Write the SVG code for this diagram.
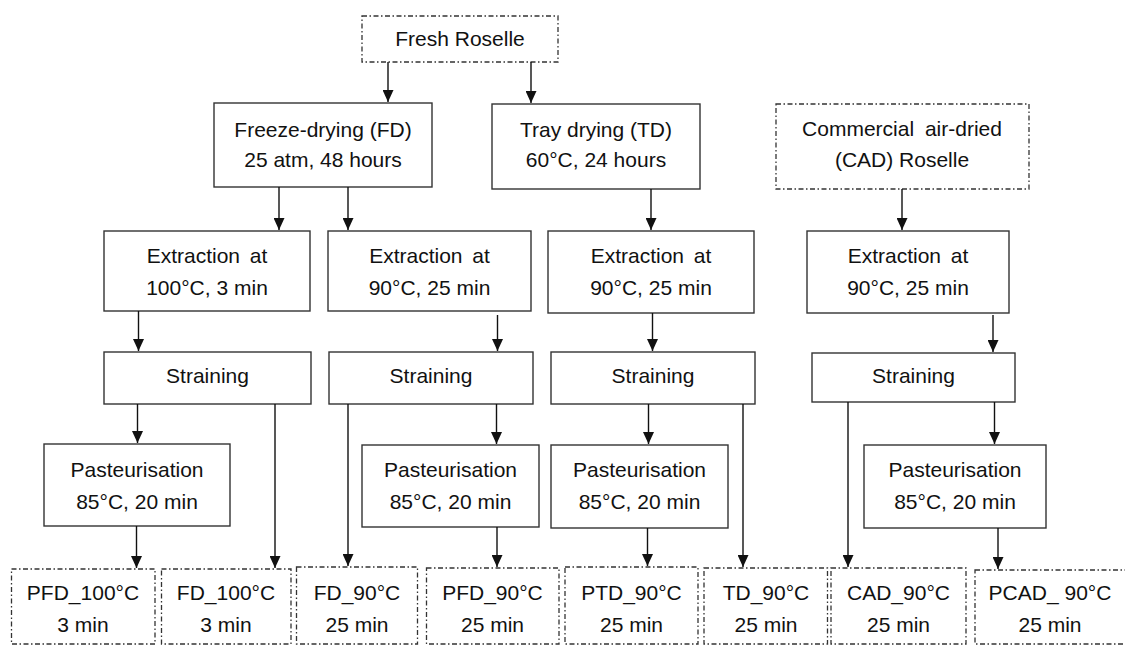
<svg xmlns="http://www.w3.org/2000/svg" width="1125" height="646" viewBox="0 0 1125 646">
<style>
.box{fill:#fff;stroke:#333;stroke-width:1.4}
.dd{fill:#fff;stroke:#333;stroke-width:1.3;stroke-dasharray:5 2.5 1.5 2.5}
text{font-family:"Liberation Sans",Arial,sans-serif;font-size:21px;fill:#111;text-anchor:middle}
.c line{stroke:#111;stroke-width:1.4;marker-end:url(#ah)}
</style>
<defs>
<marker id="ah" viewBox="0 0 12 11" refX="12" refY="5.5" markerWidth="12" markerHeight="11" orient="auto" markerUnits="userSpaceOnUse">
<path d="M0,0 L12,5.5 L0,11 z" fill="#111"/>
</marker>
</defs>
<rect width="1125" height="646" fill="#fff"/>

<g id="fresh"><rect class="dd" x="362" y="16" width="196" height="46"/><text x="460" y="46">Fresh Roselle</text></g>
<g id="fd"><rect class="box" x="214" y="103" width="218" height="84"/><text x="323" y="137">Freeze-drying (FD)</text><text x="323" y="167">25 atm, 48 hours</text></g>
<g id="td"><rect class="box" x="492" y="104" width="208" height="85"/><text x="596" y="137">Tray drying (TD)</text><text x="596" y="167">60°C, 24 hours</text></g>
<g id="cad"><rect class="dd" x="776" y="104" width="253" height="85"/><text x="902" y="136" word-spacing="5">Commercial air-dried</text><text x="902" y="167">(CAD) Roselle</text></g>

<g id="ext1"><rect class="box" x="104" y="231" width="206" height="80"/><text x="207" y="263" word-spacing="4">Extraction at</text><text x="207" y="295">100°C, 3 min</text></g>
<g id="ext2"><rect class="box" x="328" y="231" width="203" height="80"/><text x="429.5" y="263" word-spacing="4">Extraction at</text><text x="429.5" y="295">90°C, 25 min</text></g>
<g id="ext3"><rect class="box" x="548" y="231" width="206" height="82"/><text x="651" y="263" word-spacing="4">Extraction at</text><text x="651" y="295">90°C, 25 min</text></g>
<g id="ext4"><rect class="box" x="807" y="231" width="202" height="82"/><text x="908" y="263" word-spacing="4">Extraction at</text><text x="908" y="295">90°C, 25 min</text></g>

<g id="str1"><rect class="box" x="104" y="352" width="207" height="52"/><text x="207.5" y="383">Straining</text></g>
<g id="str2"><rect class="box" x="329" y="352" width="204" height="52"/><text x="431" y="383">Straining</text></g>
<g id="str3"><rect class="box" x="551" y="352" width="204" height="52"/><text x="653" y="383">Straining</text></g>
<g id="str4"><rect class="box" x="812" y="353" width="203" height="49"/><text x="913.5" y="383">Straining</text></g>

<g id="past1"><rect class="box" x="44" y="444" width="186" height="82"/><text x="137" y="477">Pasteurisation</text><text x="137" y="509">85°C, 20 min</text></g>
<g id="past2"><rect class="box" x="362" y="445" width="177" height="82"/><text x="450.5" y="477">Pasteurisation</text><text x="450.5" y="509">85°C, 20 min</text></g>
<g id="past3"><rect class="box" x="551" y="445" width="177" height="83"/><text x="639.5" y="477">Pasteurisation</text><text x="639.5" y="509">85°C, 20 min</text></g>
<g id="past4"><rect class="box" x="864" y="445" width="182" height="83"/><text x="955" y="477">Pasteurisation</text><text x="955" y="509">85°C, 20 min</text></g>

<g id="pfd100"><rect class="dd" x="11.5" y="569" width="143.5" height="75"/><text x="83" y="600">PFD_100°C</text><text x="83" y="632">3 min</text></g>
<g id="fd100"><rect class="dd" x="161.5" y="569" width="129.5" height="75"/><text x="226" y="600">FD_100°C</text><text x="226" y="632">3 min</text></g>
<g id="fd90"><rect class="dd" x="296.5" y="567" width="121" height="77"/><text x="357" y="600">FD_90°C</text><text x="357" y="632">25 min</text></g>
<g id="pfd90"><rect class="dd" x="426.5" y="568" width="132.5" height="76"/><text x="492.5" y="600">PFD_90°C</text><text x="492.5" y="632">25 min</text></g>
<g id="ptd90"><rect class="dd" x="565" y="567" width="133" height="77"/><text x="631.5" y="600">PTD_90°C</text><text x="631.5" y="632">25 min</text></g>
<g id="td90"><rect class="dd" x="704" y="568" width="123.5" height="76"/><text x="766" y="600">TD_90°C</text><text x="766" y="632">25 min</text></g>
<g id="cad90"><rect class="dd" x="831" y="568" width="135" height="76"/><text x="898.5" y="600">CAD_90°C</text><text x="898.5" y="632">25 min</text></g>
<g id="pcad90"><rect class="dd" x="975" y="570" width="152" height="74"/><text x="1050" y="600" xml:space="preserve">PCAD_ 90°C</text><text x="1050" y="632">25 min</text></g>

<g id="connectors" class="c">
<line x1="388" y1="62" x2="388" y2="102"/>
<line x1="531" y1="62" x2="531" y2="103"/>
<line x1="279" y1="187" x2="279" y2="230"/>
<line x1="348" y1="187" x2="348" y2="230"/>
<line x1="651" y1="189" x2="651" y2="230"/>
<line x1="902" y1="189" x2="902" y2="230"/>
<line x1="138.5" y1="311" x2="138.5" y2="351"/>
<line x1="497.5" y1="315" x2="497.5" y2="351"/>
<line x1="652.5" y1="313" x2="652.5" y2="351"/>
<line x1="993" y1="315" x2="993" y2="352"/>
<line x1="137.5" y1="404" x2="137.5" y2="443"/>
<line x1="275" y1="404" x2="275" y2="568"/>
<line x1="348" y1="404" x2="348" y2="566"/>
<line x1="496.5" y1="404" x2="496.5" y2="444"/>
<line x1="648.5" y1="404" x2="648.5" y2="444"/>
<line x1="743" y1="404" x2="743" y2="567"/>
<line x1="848" y1="402" x2="848" y2="567"/>
<line x1="994.5" y1="402" x2="994.5" y2="444"/>
<line x1="136.5" y1="526" x2="136.5" y2="568"/>
<line x1="497" y1="527" x2="497" y2="567"/>
<line x1="647.5" y1="528" x2="647.5" y2="566"/>
<line x1="998" y1="528" x2="998" y2="569"/>
</g>
</svg>
